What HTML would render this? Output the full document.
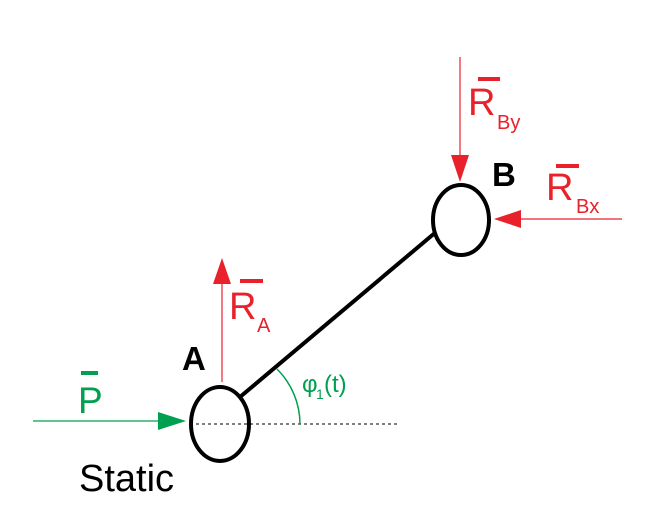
<!DOCTYPE html>
<html><head><meta charset="utf-8"><style>
html,body{margin:0;padding:0;background:#fff;}
svg{display:block;font-family:"Liberation Sans",sans-serif;}
</style></head><body>
<svg width="658" height="532" viewBox="0 0 658 532">
  <line x1="190" y1="424" x2="398" y2="424" stroke="#000" stroke-width="1" stroke-dasharray="3,3"/>
  <line x1="240" y1="397" x2="436" y2="232" stroke="#000" stroke-width="4"/>
  <ellipse cx="220" cy="424" rx="29" ry="37" fill="none" stroke="#000" stroke-width="4"/>
  <ellipse cx="461" cy="220" rx="28" ry="35" fill="none" stroke="#000" stroke-width="4"/>

  <g>
    <line x1="33" y1="421" x2="162" y2="421" stroke="#00a050" stroke-width="1.2"/>
    <polygon points="158,412 186,421 158,430" fill="#00a050"/>
  </g>
  <g>
    <rect x="81" y="371" width="17" height="4" fill="#00a050"/>
    <text x="78" y="413" font-size="37" fill="#00a050">P</text>
  </g>

  <g>
    <line x1="222" y1="382" x2="222" y2="280" stroke="#e8212b" stroke-width="1.2"/>
    <polygon points="213,284 222,258 231,284" fill="#e8212b"/>
  </g>
  <g>
    <rect x="240" y="279" width="23" height="4" fill="#e8212b"/>
    <text x="229" y="319" font-size="38" fill="#e8212b">R</text>
    <text x="257" y="332" font-size="20" fill="#e8212b">A</text>
  </g>
  <text x="182" y="370" font-size="33" font-weight="bold" fill="#000">A</text>

  <g>
    <line x1="460" y1="57" x2="460" y2="158" stroke="#e8212b" stroke-width="1.2"/>
    <polygon points="451,155 460,182 469,155" fill="#e8212b"/>
  </g>
  <g>
    <rect x="478" y="77" width="22" height="4" fill="#e8212b"/>
    <text x="468" y="115" font-size="38" fill="#e8212b">R</text>
    <text x="497" y="129" font-size="20" fill="#e8212b">By</text>
  </g>
  <text x="492" y="186" font-size="33" font-weight="bold" fill="#000">B</text>

  <g>
    <line x1="622" y1="219" x2="518" y2="219" stroke="#e8212b" stroke-width="1.2"/>
    <polygon points="521,210 494,219 521,228" fill="#e8212b"/>
  </g>
  <g>
    <rect x="556" y="164" width="23" height="4" fill="#e8212b"/>
    <text x="546" y="200" font-size="38" fill="#e8212b">R</text>
    <text x="576" y="213" font-size="20" fill="#e8212b">Bx</text>
  </g>

  <path d="M277,369 A78,78 0 0 1 300,424" fill="none" stroke="#00a050" stroke-width="1.5"/>
  <g>
    <text x="302" y="392" font-size="24" fill="#00a050">φ</text>
    <text x="316" y="399" font-size="14" fill="#00a050">1</text>
    <text x="324" y="392" font-size="24" fill="#00a050">(t)</text>
  </g>

  <text x="79" y="491" font-size="38" fill="#000">Static</text>
</svg>
</body></html>
